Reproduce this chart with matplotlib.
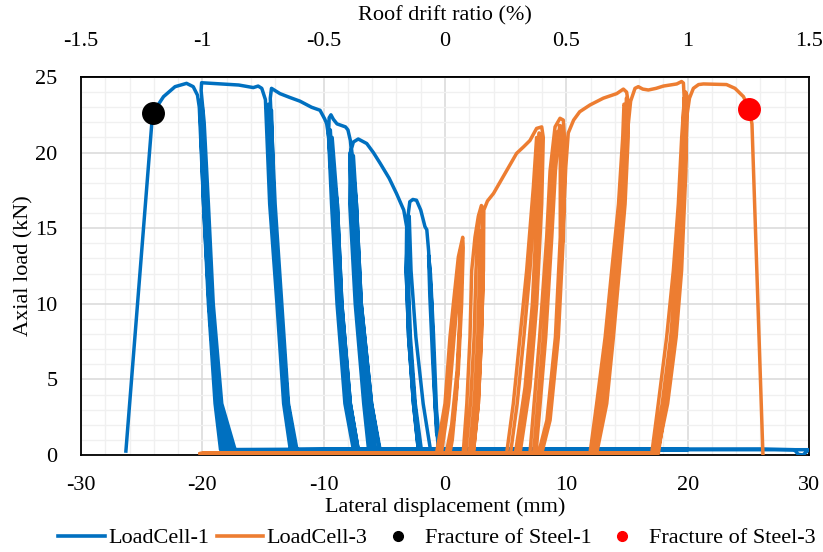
import matplotlib
matplotlib.use("Agg")
import matplotlib.pyplot as plt
from matplotlib.ticker import MultipleLocator
from matplotlib.lines import Line2D

plt.rcParams['font.family'] = ['Liberation Serif', 'DejaVu Serif']
plt.rcParams['font.size'] = 16
plt.rcParams['axes.unicode_minus'] = False

# ---------------- data ----------------
# LoadCell-1: lateral displacement (mm), axial load (kN), cycle by cycle
blue_points = [
    # small cycles
    (0.0, 0.35), (-0.40, 0.35), (-0.70, 3.0), (-0.95, 8.0), (-1.20, 12.0), (-1.35, 13.2),
    (-1.25, 10.5), (-1.00, 6.0), (-0.70, 1.5), (-0.35, 0.35), (1.5, 0.38),
    # to -3 mm
    (-0.55, 0.35), (-0.82, 3.4), (-1.10, 10.0), (-1.35, 13.5), (-1.50, 14.9), (-1.65, 15.1),
    (-2.00, 16.2), (-2.35, 16.85), (-2.65, 16.9), (-2.90, 16.75), (-3.05, 15.8), (-3.20, 12.2),
    (-3.00, 7.8), (-2.60, 3.4), (-2.20, 0.35), (3.0, 0.38),
    (-1.95, 0.35), (-2.45, 3.4), (-2.85, 7.8), (-3.05, 12.2), (-3.00, 15.3), (-3.12, 15.0),
    (-3.10, 12.0), (-2.92, 7.8), (-2.50, 3.4), (-2.05, 0.35), (3.0, 0.38),
    (-1.20, 0.35), (-1.80, 3.4), (-2.40, 7.8), (-2.80, 12.2), (-2.95, 15.8), (-3.10, 15.6),
    (-3.15, 12.2), (-2.95, 7.8), (-2.55, 3.4), (-2.10, 0.35), (3.0, 0.38),
    # to -7.6 mm
    (-2.20, 0.35), (-2.60, 3.4), (-3.00, 7.8), (-3.20, 12.2), (-3.16, 15.1), (-3.40, 16.2),
    (-4.00, 17.3), (-4.60, 18.3), (-5.35, 19.3), (-5.90, 20.0), (-6.45, 20.6), (-7.15, 20.9),
    (-7.55, 20.7), (-7.80, 20.0), (-7.85, 16.6), (-7.40, 10.0), (-6.70, 3.4), (-6.30, 0.35), (8.0, 0.40),
    (-5.40, 0.35), (-6.05, 3.4), (-6.90, 10.0), (-7.30, 16.6), (-7.55, 19.8), (-7.70, 19.5),
    (-7.60, 16.6), (-7.15, 10.0), (-6.40, 3.4), (-5.90, 0.35), (8.0, 0.35),
    (-5.70, 0.35), (-6.30, 3.4), (-7.05, 10.0), (-7.50, 16.6), (-7.70, 20.2), (-7.85, 19.9),
    (-7.70, 16.6), (-7.25, 10.0), (-6.55, 3.4), (-6.10, 0.35), (8.0, 0.38),
    # to -9.4 mm
    (-5.35, 0.35), (-6.05, 3.4), (-6.90, 10.0), (-7.30, 16.6), (-7.80, 20.8), (-8.00, 21.5),
    (-8.20, 21.7), (-8.90, 21.9), (-9.20, 22.2), (-9.40, 22.5), (-9.55, 22.3), (-9.60, 21.1),
    (-9.35, 16.6), (-8.90, 10.0), (-8.25, 3.4), (-7.55, 0.35), (10.0, 0.40),
    (-7.15, 0.35), (-7.80, 3.4), (-8.50, 10.0), (-8.87, 16.6), (-9.30, 21.0), (-9.45, 20.8),
    (-9.10, 16.6), (-8.70, 10.0), (-8.00, 3.4), (-7.35, 0.35), (10.0, 0.35),
    (-7.35, 0.35), (-8.00, 3.4), (-8.70, 10.0), (-9.10, 16.6), (-9.45, 21.5), (-9.60, 21.3),
    (-9.25, 16.6), (-8.80, 10.0), (-8.10, 3.4), (-7.45, 0.35), (10.0, 0.38),
    # to -14.3 mm
    (-7.15, 0.35), (-7.80, 3.4), (-8.50, 10.0), (-8.87, 16.6), (-9.60, 21.1), (-9.75, 21.9),
    (-9.90, 22.2), (-10.30, 22.8), (-11.00, 23.0), (-11.95, 23.4), (-12.80, 23.65), (-13.60, 23.9),
    (-14.30, 24.25), (-14.40, 23.6), (-14.00, 16.6), (-13.45, 10.0), (-12.90, 3.4), (-12.20, 0.35), (15.0, 0.40),
    (-12.30, 0.35), (-12.95, 3.4), (-13.55, 10.0), (-14.10, 16.6), (-14.30, 22.8), (-14.45, 22.5),
    (-14.20, 16.6), (-13.60, 10.0), (-13.05, 3.4), (-12.50, 0.35), (15.0, 0.35),
    (-12.60, 0.35), (-13.15, 3.4), (-13.70, 10.0), (-14.30, 16.6), (-14.55, 23.2), (-14.70, 23.0),
    (-14.35, 16.6), (-13.75, 10.0), (-13.20, 3.4), (-12.60, 0.35), (15.0, 0.38),
    # to -20 mm
    (-12.75, 0.35), (-13.30, 3.4), (-13.85, 10.0), (-14.45, 16.6), (-14.80, 23.5), (-15.10, 24.25),
    (-15.40, 24.4), (-15.80, 24.3), (-17.00, 24.47), (-18.50, 24.54), (-20.06, 24.62), (-20.10, 24.1),
    (-19.85, 22.0), (-19.50, 16.6), (-19.10, 10.0), (-18.40, 3.4), (-17.30, 0.35), (20.0, 0.40),
    (-17.60, 0.35), (-18.60, 3.4), (-19.30, 10.0), (-19.70, 16.6), (-20.00, 23.0), (-20.15, 22.6),
    (-19.80, 16.6), (-19.35, 10.0), (-18.75, 3.4), (-18.00, 0.35), (20.0, 0.35),
    (-17.90, 0.35), (-18.80, 3.4), (-19.40, 10.0), (-19.80, 16.6), (-20.10, 23.5), (-20.20, 23.2),
    (-19.90, 16.6), (-19.45, 10.0), (-18.85, 3.4), (-18.30, 0.35), (26.0, 0.40), (28.8, 0.35),
    (29.1, 0.05), (29.5, 0.0), (29.9, 0.30), (30.2, 0.35),
    # final excursion and fracture
    (0.0, 0.35), (-18.50, 0.35), (-18.95, 3.4), (-19.50, 10.0), (-19.90, 16.6), (-20.25, 23.0),
    (-20.40, 23.8), (-20.75, 24.36), (-21.30, 24.58), (-22.25, 24.36), (-23.20, 23.7), (-24.10, 22.6),
    (-26.30, 0.26),
]

# LoadCell-3: lateral displacement (mm), axial load (kN), cycle by cycle
orange_points = [
    # to 1.5 mm
    (0.0, 0.1), (-0.70, 0.1), (0.00, 3.4), (0.41, 7.8), (0.69, 10.0), (1.10, 13.1), (1.46, 14.4),
    (1.50, 13.7), (1.37, 10.0), (1.10, 5.6), (0.69, 2.3), (0.27, 0.1), (-3.0, 0.1),
    (-0.30, 0.1), (0.30, 3.4), (0.75, 7.8), (1.05, 10.5), (1.30, 12.5), (1.38, 12.2), (1.20, 8.0),
    (0.95, 4.0), (0.60, 1.0), (0.40, 0.1), (-3.0, 0.1),
    (-0.50, 0.1), (0.15, 3.4), (0.60, 7.8), (0.90, 10.5), (1.25, 13.5), (1.40, 13.2), (1.28, 10.0),
    (1.00, 5.6), (0.55, 2.0), (0.10, 0.1), (-3.0, 0.1),
    # to 3 mm
    (1.50, 0.1), (1.80, 3.4), (2.06, 7.8), (2.20, 12.2), (2.47, 14.4), (2.75, 15.8), (3.00, 16.5),
    (3.15, 16.3), (3.16, 12.2), (3.00, 7.8), (2.75, 3.4), (2.33, 0.1), (-3.0, 0.1),
    (2.00, 0.1), (2.40, 3.4), (2.70, 7.8), (2.85, 12.2), (2.95, 14.8), (3.05, 14.5), (3.00, 11.0),
    (2.80, 6.0), (2.50, 2.0), (2.20, 0.1), (-3.0, 0.1),
    (1.70, 0.1), (2.10, 3.4), (2.40, 7.8), (2.55, 12.2), (2.80, 15.8), (3.05, 16.0), (3.08, 12.2),
    (2.90, 7.8), (2.60, 3.4), (2.10, 0.1), (-8.0, 0.1),
    # to 8 mm
    (2.33, 0.1), (2.75, 3.4), (3.00, 7.8), (3.16, 12.2), (3.20, 16.2), (3.50, 16.8), (4.00, 17.3),
    (4.50, 18.0), (5.10, 18.85), (5.90, 19.95), (6.50, 20.4), (7.00, 20.8), (7.55, 21.6), (7.97, 21.7),
    (8.10, 21.0), (7.97, 16.6), (7.56, 10.0), (7.00, 4.5), (6.18, 0.1), (-8.0, 0.1),
    (5.08, 0.1), (5.63, 3.4), (6.18, 7.8), (6.73, 12.2), (7.28, 17.7), (7.55, 21.0), (7.70, 20.8),
    (7.60, 16.6), (7.20, 10.0), (6.60, 4.5), (5.80, 0.1), (-8.0, 0.1),
    (5.40, 0.1), (5.95, 3.4), (6.50, 7.8), (7.00, 12.2), (7.45, 17.7), (7.75, 21.3), (7.90, 21.1),
    (7.80, 16.6), (7.40, 10.0), (6.85, 4.5), (6.00, 0.1), (-10.0, 0.1),
    # to 9.5 mm
    (7.00, 0.1), (7.80, 7.8), (8.38, 14.4), (8.66, 18.8), (9.07, 21.7), (9.48, 22.27), (9.75, 22.15),
    (9.90, 20.4), (9.75, 14.4), (9.34, 7.8), (8.66, 2.3), (7.97, 0.1), (-10.0, 0.1),
    (7.30, 0.1), (8.10, 7.8), (8.60, 14.4), (8.90, 18.8), (9.30, 21.4), (9.50, 21.3), (9.50, 14.4),
    (9.10, 7.8), (8.40, 2.3), (7.70, 0.1), (-10.0, 0.1),
    (7.50, 0.1), (8.30, 7.8), (8.80, 14.4), (9.10, 18.8), (9.45, 21.8), (9.65, 21.7), (9.65, 14.4),
    (9.25, 7.8), (8.55, 2.3), (7.85, 0.1), (-15.0, 0.1),
    # to 15 mm
    (7.80, 0.1), (8.50, 2.3), (9.20, 7.8), (9.70, 14.4), (9.95, 19.0), (10.16, 21.3), (10.60, 22.15),
    (11.10, 22.7), (11.95, 23.15), (13.05, 23.6), (14.15, 23.9), (14.70, 24.2), (14.97, 24.0),
    (15.10, 23.3), (15.10, 21.05), (14.84, 16.6), (14.37, 12.2), (13.88, 7.8), (13.33, 3.4),
    (12.50, 0.1), (-15.0, 0.1),
    (11.95, 0.1), (12.50, 3.4), (13.20, 7.8), (13.74, 12.2), (14.30, 16.6), (14.65, 21.05),
    (14.75, 23.2), (14.90, 23.0), (14.80, 21.0), (14.55, 16.6), (14.05, 12.2), (13.55, 7.8),
    (12.95, 3.4), (12.20, 0.1), (-15.0, 0.1),
    (12.20, 0.1), (12.75, 3.4), (13.40, 7.8), (13.95, 12.2), (14.50, 16.6), (14.85, 21.05),
    (14.95, 23.6), (15.05, 23.4), (14.95, 21.0), (14.70, 16.6), (14.20, 12.2), (13.70, 7.8),
    (13.15, 3.4), (12.35, 0.1), (-20.0, 0.1),
    # to 19.7 mm
    (12.20, 0.1), (12.80, 3.4), (13.50, 7.8), (14.05, 12.2), (14.60, 16.6), (15.00, 21.05),
    (15.30, 23.4), (15.66, 24.25), (15.93, 24.36), (16.30, 24.2), (16.76, 24.14), (17.40, 24.25),
    (18.00, 24.4), (19.10, 24.54), (19.50, 24.7), (19.65, 24.6), (19.72, 23.5), (19.51, 21.05),
    (19.23, 16.6), (18.82, 12.2), (18.27, 7.8), (17.58, 3.4), (17.04, 0.1), (-20.0, 0.1),
    (17.20, 0.1), (17.90, 3.4), (18.60, 7.8), (19.05, 12.2), (19.40, 16.6), (19.60, 21.0),
    (19.70, 23.6), (19.80, 23.3), (19.70, 18.8), (19.35, 12.2), (18.90, 7.8), (18.20, 3.4),
    (17.40, 0.1), (-20.0, 0.1),
    (17.30, 0.1), (18.10, 3.4), (18.80, 7.8), (19.20, 12.2), (19.55, 16.6), (19.75, 21.0),
    (19.85, 24.0), (19.95, 23.7), (19.85, 18.8), (19.50, 12.2), (19.05, 7.8), (18.35, 3.4),
    (17.50, 0.1), (-20.2, 0.1),
    # final excursion and fracture
    (17.58, 0.1), (18.40, 4.5), (19.10, 10.0), (19.51, 14.4), (19.79, 18.8), (19.93, 22.4),
    (20.15, 23.6), (20.47, 24.25), (20.90, 24.5), (21.30, 24.54), (22.30, 24.52), (23.20, 24.5),
    (23.90, 24.25), (24.60, 23.7), (25.05, 22.9), (25.30, 21.9), (26.20, 0.1),
]

# fracture events (displacement mm, load kN)
fracture_steel1 = (-24.10, 22.6)
fracture_steel3 = (25.05, 22.9)

# axis ticks
x_ticks = [-30, -20, -10, 0, 10, 20, 30]
x_tick_labels = ['-30', '-20', '-10', '0', '10', '20', '30']
y_ticks = [0, 5, 10, 15, 20, 25]
y_tick_labels = ['0', '5', '10', '15', '20', '25']
drift_ticks = [-1.5, -1.0, -0.5, 0.0, 0.5, 1.0, 1.5]
drift_tick_labels = ['-1.5', '-1', '-0.5', '0', '0.5', '1', '1.5']
mm_per_percent_drift = 20.0

BLUE = '#0070C0'
ORANGE = '#ED7D31'

# ---------------- figure ----------------
W, H = 823, 552
fig = plt.figure(figsize=(W / 100, H / 100), dpi=100)
ax = fig.add_axes([81 / W, 1 - 455 / H, (809 - 81) / W, (455 - 77) / H])

blue_x, blue_y = zip(*blue_points)
orange_x, orange_y = zip(*orange_points)
ax.plot(blue_x, blue_y, color=BLUE, lw=2.5, solid_joinstyle='round', zorder=3)
ax.plot(orange_x, orange_y, color=ORANGE, lw=2.5, solid_joinstyle='round', zorder=4)
ax.plot(*fracture_steel1, 'o', color='black', ms=15.5, zorder=5)
ax.plot(*fracture_steel3, 'o', color='#FF0000', ms=15.5, zorder=5)

ax.set_xlim(-30, 30)
ax.set_ylim(0, 25)
ax.set_xticks(x_ticks)
ax.set_xticklabels(x_tick_labels)
ax.set_yticks(y_ticks)
ax.set_yticklabels(y_tick_labels)
ax.xaxis.set_minor_locator(MultipleLocator(2))
ax.yaxis.set_minor_locator(MultipleLocator(1))
ax.grid(which='major', color='#D9D9D9', lw=1.1, zorder=1)
ax.grid(which='minor', color='#F0F0F0', lw=1.0, zorder=0)
ax.set_axisbelow(True)
ax.tick_params(which='both', length=0)
ax.tick_params(axis='x', pad=15)
ax.tick_params(axis='y', pad=17)
for sp in ax.spines.values():
    sp.set_color('black')
    sp.set_linewidth(1.3)

top = ax.secondary_xaxis('top', functions=(lambda v: v / mm_per_percent_drift,
                                            lambda d: d * mm_per_percent_drift))
top.set_xticks(drift_ticks)
top.set_xticklabels(drift_tick_labels)
top.tick_params(length=0, pad=19)
top.spines['top'].set_linewidth(1.3)

fig.text(445 / W, 1 - 16 / H, 'Roof drift ratio (%)', ha='center', va='center')
fig.text(445 / W, 1 - 507 / H, 'Lateral displacement (mm)', ha='center', va='center')
fig.text(24 / W, 1 - 266 / H, 'Axial load (kN)', ha='center', va='center', rotation=90)

handles = [
    Line2D([], [], color=BLUE, lw=2.6),
    Line2D([], [], color=ORANGE, lw=2.6),
    Line2D([], [], ls='none', marker='o', color='black', ms=7),
    Line2D([], [], ls='none', marker='o', color='#FF0000', ms=7),
]
labels = ['LoadCell-1', 'LoadCell-3', 'Fracture of Steel-1', 'Fracture of Steel-3']
fig.legend(handles, labels, loc='center', bbox_to_anchor=(437 / W, 1 - 538 / H), ncol=4,
           frameon=False, handlelength=2.1, handletextpad=0.15, columnspacing=0.33,
           borderpad=0, borderaxespad=0)

fig.savefig('out.png', dpi=100)
